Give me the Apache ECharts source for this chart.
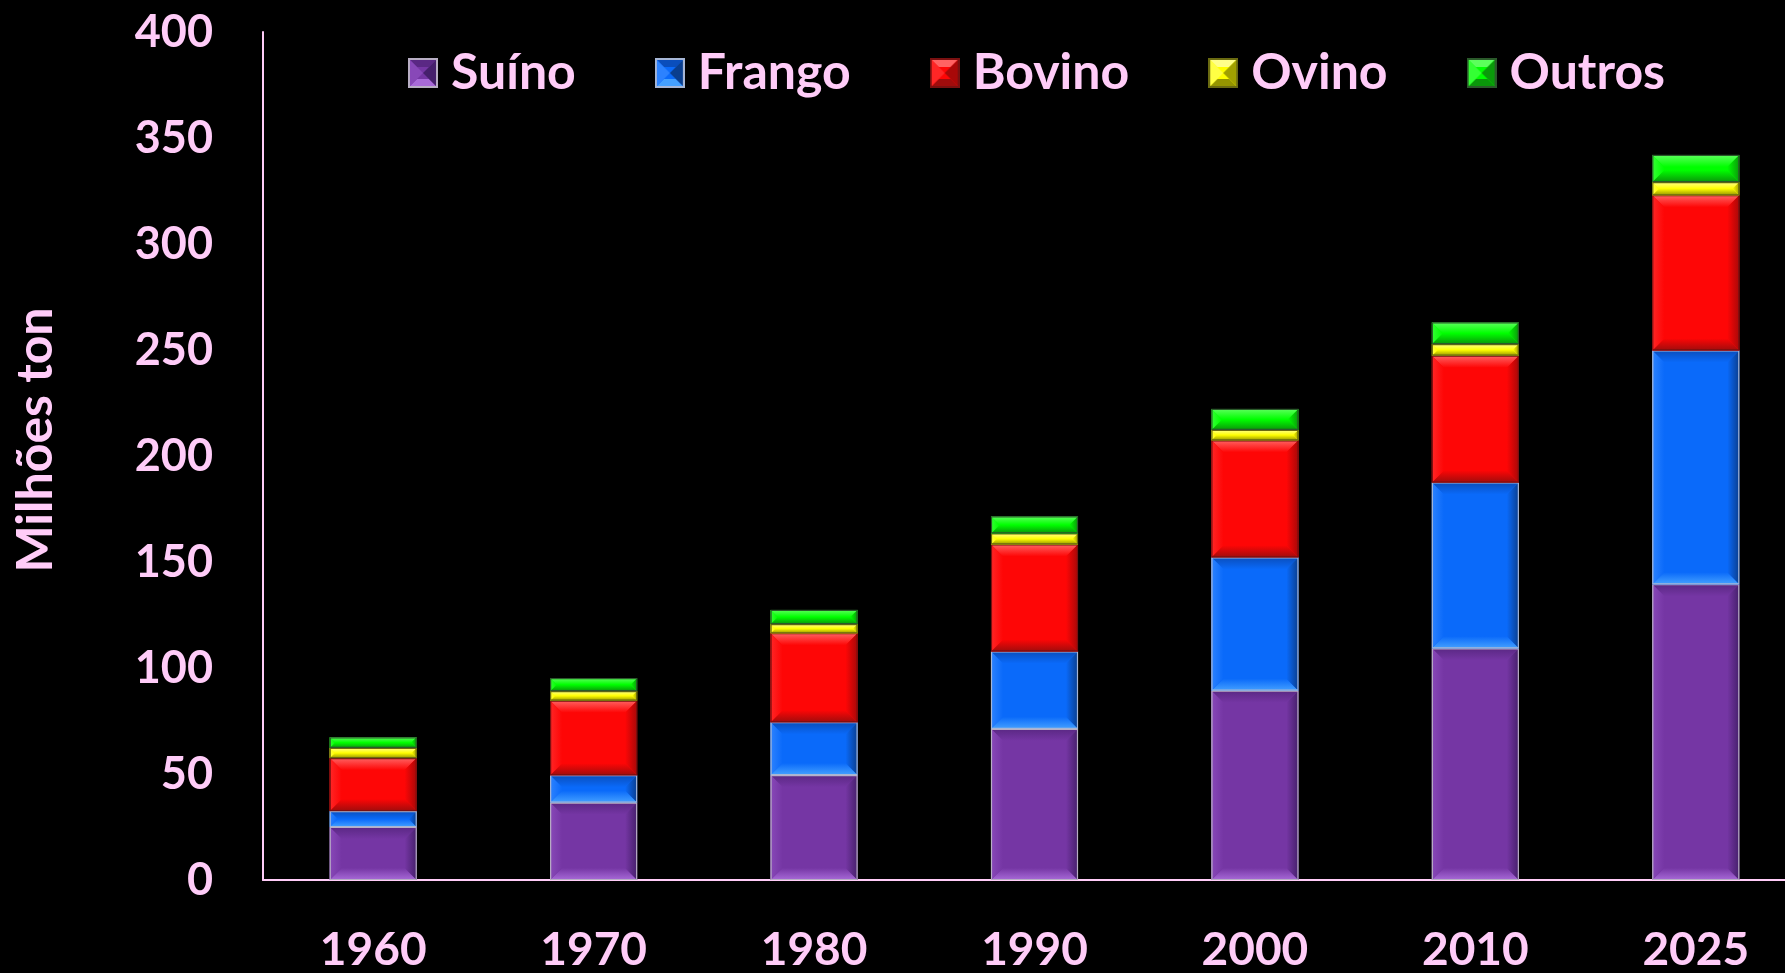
<!DOCTYPE html>
<html>
<head>
<meta charset="utf-8">
<script src="https://cdn.jsdelivr.net/npm/echarts@6/dist/echarts.min.js"></script>
<style>
  html, body { margin: 0; padding: 0; background: #000; overflow: hidden; }
  #chart { width: 1806px; height: 973px; }
</style>
</head>
<body>
<div id="chart"></div>
<script>
// Produção mundial de carnes (milhões de toneladas)
const years = ['1960', '1970', '1980', '1990', '2000', '2010', '2025'];
const suino  = [25.0, 36.5, 49.5, 71.3, 89.3, 109.3, 139.5];
const frango = [7.5, 12.9, 24.9, 36.5, 62.9, 78.2, 110.3];
const bovino = [25.0, 35.2, 42.0, 50.5, 55.2, 59.8, 73.2];
const ovino  = [4.8, 4.5, 4.3, 5.2, 4.9, 5.5, 6.2];
const outros = [5.0, 6.1, 6.7, 8.0, 9.9, 10.2, 12.8];
const seriesNames = ['Suíno', 'Frango', 'Bovino', 'Ovino', 'Outros'];
const yTicks = { min: 0, max: 400, interval: 50 };

const textColor = '#FFCCF8';
const font = 'Lato';
const BAR_WIDTH = 87;
const BEVEL = 12;

// face colour plus the four bevel shades (top, bottom, left, right) and outline
const styles = [
  { fill: '#7536A4', top: '#5A2884', bottom: '#A86AD8', left: '#8848B8', right: '#46206C', line: '#B8AEC4' },
  { fill: '#0A6AFA', top: '#0A4EBC', bottom: '#44A0FF', left: '#2C82FF', right: '#0A3E8E', line: '#A6B6D6' },
  { fill: '#FE0606', top: '#FF6262', bottom: '#A00C0C', left: '#FF2626', right: '#A80808', line: '#7A1010' },
  { fill: '#FFFF00', top: '#FFFF8A', bottom: '#949400', left: '#FFFF44', right: '#A0A000', line: '#6A6A10' },
  { fill: '#00FF00', top: '#5CFF5C', bottom: '#0A960A', left: '#34FF34', right: '#0A9A0A', line: '#2A5A2A' }
];

const values = [suino, frango, bovino, ovino, outros];

// cumulative bottoms/tops for the stacked segments
function stackedRows(seriesIndex) {
  return years.map((_, c) => {
    let base = 0;
    for (let k = 0; k < seriesIndex; k++) base += values[k][c];
    return [c, base, base + values[seriesIndex][c]];
  });
}

function grad(x1, y1, x2, y2, c1, c2) {
  return new echarts.graphic.LinearGradient(x1, y1, x2, y2, [
    { offset: 0, color: c1 }, { offset: 1, color: c2 }
  ]);
}

function bevelShapes(xl, yt, w, h, st) {
  const xr = xl + w, yb = yt + h;
  const b = Math.max(0, Math.min(BEVEL, h / 2, w / 2));
  return [
    { type: 'rect', shape: { x: xl, y: yt, width: w, height: h }, style: { fill: st.fill } },
    { type: 'polygon', shape: { points: [[xl, yt], [xr, yt], [xr - b, yt + b], [xl + b, yt + b]] },
      style: { fill: grad(0, 0, 0, 1, st.top, st.fill) } },
    { type: 'polygon', shape: { points: [[xl, yb], [xr, yb], [xr - b, yb - b], [xl + b, yb - b]] },
      style: { fill: grad(0, 1, 0, 0, st.bottom, st.fill) } },
    { type: 'polygon', shape: { points: [[xl, yt], [xl + b, yt + b], [xl + b, yb - b], [xl, yb]] },
      style: { fill: grad(0, 0, 1, 0, st.left, st.fill) } },
    { type: 'polygon', shape: { points: [[xr, yt], [xr - b, yt + b], [xr - b, yb - b], [xr, yb]] },
      style: { fill: grad(1, 0, 0, 0, st.right, st.fill) } },
    { type: 'rect', shape: { x: xl + 0.5, y: yt + 0.5, width: w - 1, height: h - 1 },
      style: { fill: null, stroke: st.line, lineWidth: 1.2 } }
  ];
}

// small bevelled square used as legend marker
function legendIcon(st) {
  const s = 30;
  const cv = document.createElement('canvas');
  cv.width = s; cv.height = s;
  const g = cv.getContext('2d');
  const b = s / 2;
  g.fillStyle = st.fill; g.fillRect(0, 0, s, s);
  const poly = (pts, color) => {
    g.beginPath(); g.moveTo(pts[0][0], pts[0][1]);
    pts.slice(1).forEach(p => g.lineTo(p[0], p[1]));
    g.closePath(); g.fillStyle = color; g.fill();
  };
  poly([[0, 0], [s, 0], [s - b * 0.6, b * 0.6], [b * 0.6, b * 0.6]], st.top);
  poly([[0, s], [s, s], [s - b * 0.6, s - b * 0.6], [b * 0.6, s - b * 0.6]], st.bottom);
  poly([[0, 0], [b, b], [0, s]], st.left);
  poly([[s, 0], [b, b], [s, s]], st.right);
  g.strokeStyle = st.line; g.lineWidth = 2; g.strokeRect(1, 1, s - 2, s - 2);
  return 'image://' + cv.toDataURL();
}

const chart = echarts.init(document.getElementById('chart'), null, { renderer: 'canvas' });

chart.setOption({
  backgroundColor: '#000000',
  animation: false,
  legend: {
    data: seriesNames.map((n, i) => ({ name: n, icon: legendIcon(styles[i]) })),
    top: 43,
    left: 403,
    itemWidth: 30,
    itemHeight: 30,
    itemGap: 79,
    textStyle: { color: textColor, fontFamily: font, fontWeight: 'bold', fontSize: 50, padding: [0, 0, 0, 8] }
  },
  grid: { left: 263, right: 0, top: 32, bottom: 92, containLabel: false },
  xAxis: {
    type: 'category',
    data: years,
    boundaryGap: true,
    axisLine: { lineStyle: { color: textColor, width: 2 } },
    axisTick: { show: false },
    axisLabel: { color: textColor, fontFamily: font, fontWeight: 'bold', fontSize: 46, margin: 47 }
  },
  yAxis: {
    type: 'value',
    min: yTicks.min,
    max: yTicks.max,
    interval: yTicks.interval,
    name: 'Milhões ton',
    nameLocation: 'middle',
    nameGap: 202,
    nameRotate: 90,
    nameTextStyle: { color: textColor, fontFamily: font, fontWeight: 'bold', fontSize: 50, padding: [0, 0, 0, 32] },
    axisLine: { show: true, lineStyle: { color: textColor, width: 2 } },
    axisTick: { show: false },
    splitLine: { show: false },
    axisLabel: { color: textColor, fontFamily: font, fontWeight: 'bold', fontSize: 45, margin: 50 }
  },
  series: seriesNames.map((name, i) => ({
    name: name,
    type: 'custom',
    data: stackedRows(i),
    encode: { x: 0, y: [1, 2] },
    itemStyle: { color: styles[i].fill },
    renderItem: function (params, api) {
      const c = api.value(0);
      const lo = api.coord([c, api.value(1)]);
      const hi = api.coord([c, api.value(2)]);
      const xl = lo[0] - BAR_WIDTH / 2;
      return { type: 'group', children: bevelShapes(xl, hi[1], BAR_WIDTH, lo[1] - hi[1], styles[i]) };
    }
  }))
});
</script>
</body>
</html>
